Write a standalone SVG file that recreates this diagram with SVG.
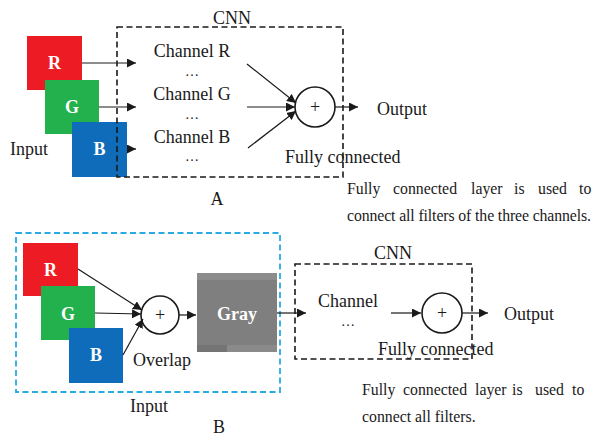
<svg xmlns="http://www.w3.org/2000/svg" width="600" height="444" viewBox="0 0 600 444">
<defs>
<marker id="ah" viewBox="0 0 10 10" refX="10" refY="5" markerWidth="9" markerHeight="9" markerUnits="userSpaceOnUse" orient="auto"><path d="M0,0 L10,5 L0,10 Z" fill="#1a1a1a"/></marker>
<style>
text{font-family:"Liberation Serif","Times New Roman",serif;fill:#1a1a1a}
.t{font-size:18px}
.d{font-size:14px}
.p{font-size:15.8px}
.lab{font-size:18px;font-weight:bold;fill:#fff}
.ln{stroke:#1a1a1a;stroke-width:1.2;fill:none}
.dash{stroke:#1a1a1a;stroke-width:1.6;fill:none;stroke-dasharray:6 3.5}
.bdash{stroke:#29abe2;stroke-width:1.8;fill:none;stroke-dasharray:6 3.5}
.circ{stroke:#1a1a1a;stroke-width:1.6;fill:#fff}
</style>
</defs>
<rect width="600" height="444" fill="#fff"/>

<!-- Part A -->
<g id="A-R"><rect x="27" y="36" width="55" height="54" fill="#ed1c24"/><text class="lab" x="54.5" y="69" text-anchor="middle">R</text></g>
<g id="A-G"><rect x="45" y="80" width="54" height="54" fill="#22b14c"/><text class="lab" x="72" y="113" text-anchor="middle">G</text></g>
<g id="A-B"><rect x="72" y="122" width="55" height="55" fill="#0f6cba"/><text class="lab" x="99.5" y="155" text-anchor="middle">B</text></g>
<g id="A-input"><text class="t" x="10" y="155">Input</text></g>
<g id="A-cnn"><rect class="dash" x="117" y="27" width="226" height="150"/><text class="t" x="232" y="24" text-anchor="middle">CNN</text></g>
<g id="A-channels">
<text class="t" x="192" y="57" text-anchor="middle">Channel R</text>
<text class="d" x="192" y="76" text-anchor="middle">…</text>
<text class="t" x="192" y="100" text-anchor="middle">Channel G</text>
<text class="d" x="192" y="119" text-anchor="middle">…</text>
<text class="t" x="192" y="143" text-anchor="middle">Channel B</text>
<text class="d" x="192" y="161" text-anchor="middle">…</text>
</g>
<g id="A-fc"><circle class="circ" cx="315" cy="107" r="20"/><text class="t" x="315" y="113" text-anchor="middle">+</text><text class="t" x="285" y="163">Fully connected</text></g>
<g id="A-output"><text class="t" x="377" y="115">Output</text></g>
<g id="A-caption"><text class="t" x="217" y="205" text-anchor="middle">A</text></g>
<g id="A-note">
<text class="p" y="194"><tspan x="347">Fully</tspan><tspan x="393">connected</tspan><tspan x="471">layer</tspan><tspan x="514">is</tspan><tspan x="538">used</tspan><tspan x="579">to</tspan></text>
<text class="p" x="347" y="221" textLength="244" lengthAdjust="spacing">connect all filters of the three channels.</text>
</g>

<!-- Part B -->
<g id="B-input"><rect class="bdash" x="16" y="233" width="264" height="159"/><text class="t" x="149" y="412" text-anchor="middle">Input</text></g>
<g id="B-R"><rect x="23" y="243" width="55" height="53" fill="#ed1c24"/><text class="lab" x="50.5" y="276" text-anchor="middle">R</text></g>
<g id="B-G"><rect x="41" y="286" width="54" height="54" fill="#22b14c"/><text class="lab" x="68" y="320" text-anchor="middle">G</text></g>
<g id="B-B"><rect x="69" y="328" width="54" height="55" fill="#0f6cba"/><text class="lab" x="96" y="361" text-anchor="middle">B</text></g>
<g id="B-overlap"><circle class="circ" cx="160" cy="315" r="19"/><text class="t" x="160" y="321" text-anchor="middle">+</text><text class="t" x="133" y="366">Overlap</text></g>
<g id="B-gray">
<rect x="197" y="273" width="80" height="79" fill="#7f7f7f"/>
<rect x="197" y="273" width="80" height="7" fill="#8c8c8c"/>
<rect x="197" y="345" width="80" height="7" fill="#8a8a8a"/>
<rect x="197" y="345" width="30" height="7" fill="#747474"/>
<text class="lab" x="237" y="320" text-anchor="middle">Gray</text>
</g>
<g id="B-cnn"><rect class="dash" x="295" y="264" width="177" height="95"/><text class="t" x="393" y="259" text-anchor="middle">CNN</text>
<text class="t" x="348" y="307" text-anchor="middle">Channel</text>
<text class="d" x="348" y="326" text-anchor="middle">…</text>
</g>
<g id="B-fc"><circle class="circ" cx="442" cy="313" r="20"/><text class="t" x="442" y="319" text-anchor="middle">+</text><text class="t" x="378" y="355">Fully connected</text></g>
<g id="B-output"><text class="t" x="504" y="320">Output</text></g>
<g id="B-caption"><text class="t" x="219" y="433" text-anchor="middle">B</text></g>
<g id="B-note">
<text class="p" y="395"><tspan x="362">Fully</tspan><tspan x="403">connected</tspan><tspan x="475">layer</tspan><tspan x="512">is</tspan><tspan x="535">used</tspan><tspan x="572">to</tspan></text>
<text class="p" x="362" y="422">connect all filters.</text>
</g>

<g id="connectors">
<line class="ln" x1="82" y1="63" x2="136" y2="63" marker-end="url(#ah)"/>
<line class="ln" x1="99" y1="107" x2="136" y2="107" marker-end="url(#ah)"/>
<line class="ln" x1="127" y1="149" x2="136" y2="149" marker-end="url(#ah)"/>
<line class="ln" x1="247" y1="64" x2="296" y2="103" marker-end="url(#ah)"/>
<line class="ln" x1="247" y1="107" x2="295" y2="107" marker-end="url(#ah)"/>
<line class="ln" x1="248" y1="148" x2="296" y2="111" marker-end="url(#ah)"/>
<line class="ln" x1="335" y1="107" x2="358" y2="107" marker-end="url(#ah)"/>
<line class="ln" x1="78" y1="269" x2="142" y2="310" marker-end="url(#ah)"/>
<line class="ln" x1="95" y1="313" x2="141" y2="314" marker-end="url(#ah)"/>
<line class="ln" x1="123" y1="355" x2="143" y2="319" marker-end="url(#ah)"/>
<line class="ln" x1="179" y1="315" x2="196" y2="315" marker-end="url(#ah)"/>
<line class="ln" x1="277" y1="313" x2="306" y2="313" marker-end="url(#ah)"/>
<line class="ln" x1="391" y1="313" x2="421" y2="313" marker-end="url(#ah)"/>
<line class="ln" x1="462" y1="313" x2="488" y2="313" marker-end="url(#ah)"/>
</g>
</svg>
